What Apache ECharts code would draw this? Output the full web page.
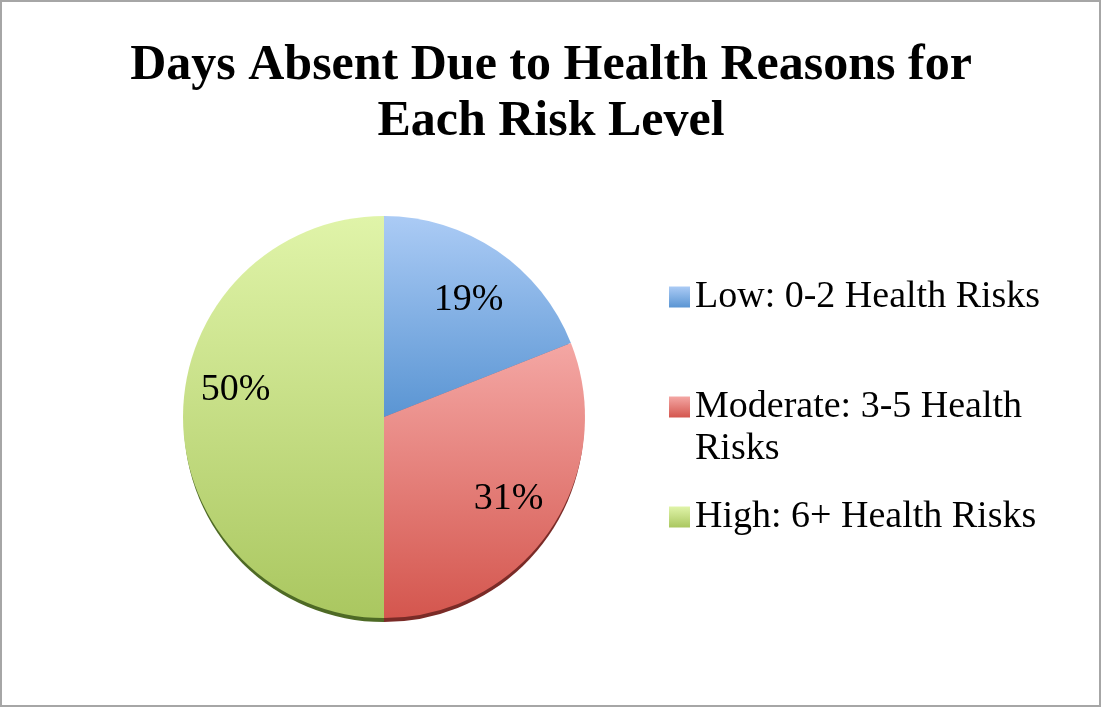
<!DOCTYPE html>
<html>
<head>
<meta charset="utf-8">
<script src="https://cdn.jsdelivr.net/npm/echarts@6/dist/echarts.min.js"></script>
<style>
  html, body { margin: 0; padding: 0; background: #fff; }
  #chart { width: 1102px; height: 709px; }
</style>
</head>
<body>
<div id="chart"></div>
<script>
const titleText = 'Days Absent Due to Health Reasons for\nEach Risk Level';
const categories = ['Low: 0-2 Health Risks', 'Moderate: 3-5 Health Risks', 'High: 6+ Health Risks'];
// leading blank line keeps the first text line level with the legend swatch
const legendLabels = ['Low: 0-2 Health Risks', ' \nModerate: 3-5 Health\nRisks', 'High: 6+ Health Risks'];
const values = [19, 31, 50];

const topColors = ['#abcbf5', '#f4a7a4', '#e0f4a9'];
const bottomColors = ['#5a95d3', '#d4564e', '#aac760'];
const rimColors = ['#3d6aa0', '#7a2b27', '#4e6a25'];

const FONT = 'Liberation Serif';
const chart = echarts.init(document.getElementById('chart'));

const grad = (i) => new echarts.graphic.LinearGradient(0, 0, 0, 1, [
  { offset: 0, color: topColors[i] },
  { offset: 1, color: bottomColors[i] }
]);

const option = {
  animation: false,
  title: {
    text: titleText,
    left: 'center',
    top: 33,
    textStyle: {
      fontFamily: FONT,
      fontWeight: 'bold',
      fontSize: 50,
      lineHeight: 56,
      color: '#000'
    }
  },
  legend: {
    orient: 'vertical',
    left: 664,
    top: 271,
    itemWidth: 21,
    itemHeight: 21,
    itemGap: 26,
    icon: 'rect',
    data: categories.map((name, i) => ({
      name: name,
      itemStyle: { color: grad(i) }
    })),
    formatter: (name) => legendLabels[categories.indexOf(name)],
    textStyle: {
      fontFamily: FONT,
      fontSize: 38,
      lineHeight: 42,
      color: '#000'
    },
    selectedMode: false
  },
  graphic: [{
    type: 'rect',
    silent: true,
    shape: { x: 1, y: 1, width: 1099, height: 705 },
    style: { fill: 'none', stroke: '#a6a6a6', lineWidth: 2 }
  }],
  series: [
    {
      // dark rim under the pie
      type: 'pie',
      silent: true,
      center: [384, 422],
      radius: [0, 200],
      startAngle: 90,
      clockwise: true,
      label: { show: false },
      labelLine: { show: false },
      data: values.map((v, i) => ({ name: categories[i], value: v, itemStyle: { color: rimColors[i] } })),
      z: 1
    },
    {
      type: 'pie',
      center: [384, 417],
      radius: [0, 201],
      startAngle: 90,
      clockwise: true,
      label: { show: false },
      labelLine: { show: false },
      data: values.map((v, i) => ({ name: categories[i], value: v, itemStyle: { color: grad(i) } })),
      z: 2
    },
    {
      // label ring: transparent, only places percentage labels
      type: 'pie',
      silent: true,
      center: [384, 417],
      radius: [94, 201],
      startAngle: 90,
      clockwise: true,
      itemStyle: { color: 'rgba(0,0,0,0)' },
      label: {
        show: true,
        position: 'inside',
        formatter: (p) => p.value + '%',
        fontFamily: FONT,
        fontSize: 38,
        color: '#000'
      },
      labelLine: { show: false },
      data: values.map((v, i) => ({
        name: categories[i],
        value: v,
        label: { offset: [[0, 7], [0, -3], [2, -27]][i] }
      })),
      z: 3
    }
  ]
};

chart.setOption(option);
</script>
</body>
</html>
